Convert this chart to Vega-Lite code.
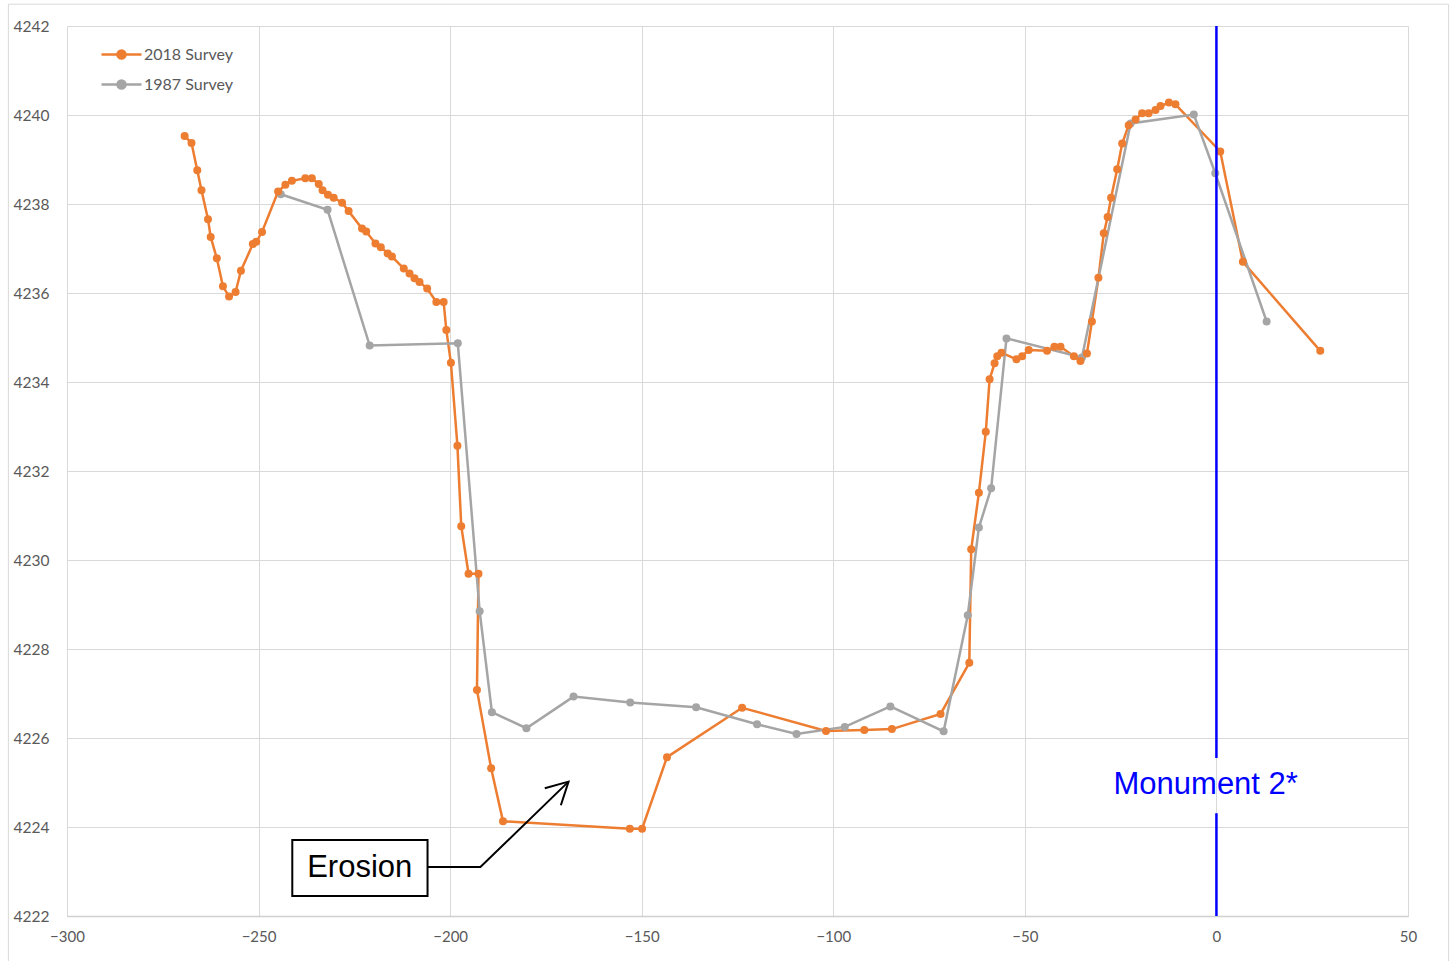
{
  "$schema": "https://vega.github.io/schema/vega-lite/v6.json",
  "width": 1341,
  "height": 890,
  "autosize": {"type": "none"},
  "padding": {"left": 67, "top": 26, "right": 47, "bottom": 45},
  "background": "white",
  "config": {
    "view": {"stroke": null},
    "font": "Lato",
    "axis": {
      "grid": true,
      "gridColor": "#d9d9d9",
      "gridWidth": 1,
      "ticks": false,
      "domain": false,
      "labelFont": "Lato",
      "labelFontSize": 15,
      "labelColor": "#595959",
      "labelFlush": false,
      "title": null
    }
  },
  "datasets": {
    "profile": [
      {"series": "2018 Survey", "i": 1, "x": -269.3, "y": 4239.53},
      {"series": "2018 Survey", "i": 2, "x": -267.5, "y": 4239.37},
      {"series": "2018 Survey", "i": 3, "x": -266.0, "y": 4238.76},
      {"series": "2018 Survey", "i": 4, "x": -264.9, "y": 4238.31},
      {"series": "2018 Survey", "i": 5, "x": -263.2, "y": 4237.66},
      {"series": "2018 Survey", "i": 6, "x": -262.5, "y": 4237.26},
      {"series": "2018 Survey", "i": 7, "x": -260.9, "y": 4236.78},
      {"series": "2018 Survey", "i": 8, "x": -259.3, "y": 4236.15},
      {"series": "2018 Survey", "i": 9, "x": -257.7, "y": 4235.92},
      {"series": "2018 Survey", "i": 10, "x": -256.0, "y": 4236.02},
      {"series": "2018 Survey", "i": 11, "x": -254.6, "y": 4236.50},
      {"series": "2018 Survey", "i": 12, "x": -251.5, "y": 4237.10},
      {"series": "2018 Survey", "i": 13, "x": -250.6, "y": 4237.15},
      {"series": "2018 Survey", "i": 14, "x": -249.1, "y": 4237.37},
      {"series": "2018 Survey", "i": 15, "x": -244.9, "y": 4238.28},
      {"series": "2018 Survey", "i": 16, "x": -243.0, "y": 4238.43},
      {"series": "2018 Survey", "i": 17, "x": -241.3, "y": 4238.52},
      {"series": "2018 Survey", "i": 18, "x": -237.8, "y": 4238.58},
      {"series": "2018 Survey", "i": 19, "x": -236.1, "y": 4238.58},
      {"series": "2018 Survey", "i": 20, "x": -234.3, "y": 4238.45},
      {"series": "2018 Survey", "i": 21, "x": -233.3, "y": 4238.31},
      {"series": "2018 Survey", "i": 22, "x": -231.9, "y": 4238.21},
      {"series": "2018 Survey", "i": 23, "x": -230.4, "y": 4238.14},
      {"series": "2018 Survey", "i": 24, "x": -228.2, "y": 4238.03},
      {"series": "2018 Survey", "i": 25, "x": -226.5, "y": 4237.84},
      {"series": "2018 Survey", "i": 26, "x": -223.0, "y": 4237.45},
      {"series": "2018 Survey", "i": 27, "x": -221.9, "y": 4237.38},
      {"series": "2018 Survey", "i": 28, "x": -219.5, "y": 4237.11},
      {"series": "2018 Survey", "i": 29, "x": -218.1, "y": 4237.03},
      {"series": "2018 Survey", "i": 30, "x": -216.3, "y": 4236.89},
      {"series": "2018 Survey", "i": 31, "x": -215.2, "y": 4236.82},
      {"series": "2018 Survey", "i": 32, "x": -212.1, "y": 4236.55},
      {"series": "2018 Survey", "i": 33, "x": -210.6, "y": 4236.44},
      {"series": "2018 Survey", "i": 34, "x": -209.3, "y": 4236.33},
      {"series": "2018 Survey", "i": 35, "x": -208.0, "y": 4236.25},
      {"series": "2018 Survey", "i": 36, "x": -206.0, "y": 4236.10},
      {"series": "2018 Survey", "i": 37, "x": -203.6, "y": 4235.80},
      {"series": "2018 Survey", "i": 38, "x": -201.7, "y": 4235.80},
      {"series": "2018 Survey", "i": 39, "x": -201.0, "y": 4235.17},
      {"series": "2018 Survey", "i": 40, "x": -199.8, "y": 4234.43},
      {"series": "2018 Survey", "i": 41, "x": -198.1, "y": 4232.57},
      {"series": "2018 Survey", "i": 42, "x": -197.1, "y": 4230.76},
      {"series": "2018 Survey", "i": 43, "x": -195.2, "y": 4229.69},
      {"series": "2018 Survey", "i": 44, "x": -192.6, "y": 4229.69},
      {"series": "2018 Survey", "i": 45, "x": -193.0, "y": 4227.08},
      {"series": "2018 Survey", "i": 46, "x": -189.3, "y": 4225.32},
      {"series": "2018 Survey", "i": 47, "x": -186.2, "y": 4224.13},
      {"series": "2018 Survey", "i": 48, "x": -153.1, "y": 4223.96},
      {"series": "2018 Survey", "i": 49, "x": -149.9, "y": 4223.96},
      {"series": "2018 Survey", "i": 50, "x": -143.4, "y": 4225.57},
      {"series": "2018 Survey", "i": 51, "x": -123.8, "y": 4226.68},
      {"series": "2018 Survey", "i": 52, "x": -101.9, "y": 4226.16},
      {"series": "2018 Survey", "i": 53, "x": -91.9, "y": 4226.18},
      {"series": "2018 Survey", "i": 54, "x": -84.7, "y": 4226.20},
      {"series": "2018 Survey", "i": 55, "x": -72.0, "y": 4226.54},
      {"series": "2018 Survey", "i": 56, "x": -64.5, "y": 4227.69},
      {"series": "2018 Survey", "i": 57, "x": -64.0, "y": 4230.24},
      {"series": "2018 Survey", "i": 58, "x": -62.0, "y": 4231.51},
      {"series": "2018 Survey", "i": 59, "x": -60.2, "y": 4232.88},
      {"series": "2018 Survey", "i": 60, "x": -59.2, "y": 4234.06},
      {"series": "2018 Survey", "i": 61, "x": -57.9, "y": 4234.42},
      {"series": "2018 Survey", "i": 62, "x": -57.2, "y": 4234.58},
      {"series": "2018 Survey", "i": 63, "x": -56.1, "y": 4234.66},
      {"series": "2018 Survey", "i": 64, "x": -52.2, "y": 4234.51},
      {"series": "2018 Survey", "i": 65, "x": -50.7, "y": 4234.58},
      {"series": "2018 Survey", "i": 66, "x": -49.0, "y": 4234.72},
      {"series": "2018 Survey", "i": 67, "x": -44.2, "y": 4234.70},
      {"series": "2018 Survey", "i": 68, "x": -42.3, "y": 4234.79},
      {"series": "2018 Survey", "i": 69, "x": -40.7, "y": 4234.79},
      {"series": "2018 Survey", "i": 70, "x": -37.2, "y": 4234.58},
      {"series": "2018 Survey", "i": 71, "x": -35.5, "y": 4234.47},
      {"series": "2018 Survey", "i": 72, "x": -33.8, "y": 4234.64},
      {"series": "2018 Survey", "i": 73, "x": -32.5, "y": 4235.36},
      {"series": "2018 Survey", "i": 74, "x": -30.8, "y": 4236.34},
      {"series": "2018 Survey", "i": 75, "x": -29.4, "y": 4237.34},
      {"series": "2018 Survey", "i": 76, "x": -28.4, "y": 4237.71},
      {"series": "2018 Survey", "i": 77, "x": -27.5, "y": 4238.14},
      {"series": "2018 Survey", "i": 78, "x": -25.9, "y": 4238.78},
      {"series": "2018 Survey", "i": 79, "x": -24.6, "y": 4239.36},
      {"series": "2018 Survey", "i": 80, "x": -22.9, "y": 4239.77},
      {"series": "2018 Survey", "i": 81, "x": -21.1, "y": 4239.90},
      {"series": "2018 Survey", "i": 82, "x": -19.4, "y": 4240.04},
      {"series": "2018 Survey", "i": 83, "x": -17.7, "y": 4240.04},
      {"series": "2018 Survey", "i": 84, "x": -15.9, "y": 4240.11},
      {"series": "2018 Survey", "i": 85, "x": -14.6, "y": 4240.20},
      {"series": "2018 Survey", "i": 86, "x": -12.4, "y": 4240.28},
      {"series": "2018 Survey", "i": 87, "x": -10.7, "y": 4240.24},
      {"series": "2018 Survey", "i": 88, "x": 1.0, "y": 4239.18},
      {"series": "2018 Survey", "i": 89, "x": 6.9, "y": 4236.70},
      {"series": "2018 Survey", "i": 90, "x": 27.1, "y": 4234.70},
      {"series": "1987 Survey", "i": 1, "x": -244.2, "y": 4238.22},
      {"series": "1987 Survey", "i": 2, "x": -232.0, "y": 4237.87},
      {"series": "1987 Survey", "i": 3, "x": -221.0, "y": 4234.82},
      {"series": "1987 Survey", "i": 4, "x": -198.0, "y": 4234.87},
      {"series": "1987 Survey", "i": 5, "x": -192.3, "y": 4228.85},
      {"series": "1987 Survey", "i": 6, "x": -189.1, "y": 4226.58},
      {"series": "1987 Survey", "i": 7, "x": -180.1, "y": 4226.22},
      {"series": "1987 Survey", "i": 8, "x": -167.8, "y": 4226.93},
      {"series": "1987 Survey", "i": 9, "x": -153.0, "y": 4226.80},
      {"series": "1987 Survey", "i": 10, "x": -135.8, "y": 4226.69},
      {"series": "1987 Survey", "i": 11, "x": -119.9, "y": 4226.31},
      {"series": "1987 Survey", "i": 12, "x": -109.6, "y": 4226.09},
      {"series": "1987 Survey", "i": 13, "x": -97.0, "y": 4226.25},
      {"series": "1987 Survey", "i": 14, "x": -85.1, "y": 4226.71},
      {"series": "1987 Survey", "i": 15, "x": -71.2, "y": 4226.15},
      {"series": "1987 Survey", "i": 16, "x": -64.9, "y": 4228.76},
      {"series": "1987 Survey", "i": 17, "x": -62.0, "y": 4230.73},
      {"series": "1987 Survey", "i": 18, "x": -58.8, "y": 4231.61},
      {"series": "1987 Survey", "i": 19, "x": -54.8, "y": 4234.98},
      {"series": "1987 Survey", "i": 20, "x": -35.1, "y": 4234.55},
      {"series": "1987 Survey", "i": 21, "x": -22.4, "y": 4239.81},
      {"series": "1987 Survey", "i": 22, "x": -5.9, "y": 4240.01},
      {"series": "1987 Survey", "i": 23, "x": -0.3, "y": 4238.69},
      {"series": "1987 Survey", "i": 24, "x": 13.1, "y": 4235.36}
    ],
    "monument": [
      {"x": 0, "y": 4242, "y2": 4225.55},
      {"x": 0, "y": 4224.31, "y2": 4222}
    ],
    "arrow": [
      {"g": "connector", "i": 1, "x": -205.9, "y": 4223.10},
      {"g": "connector", "i": 2, "x": -192.1, "y": 4223.10},
      {"g": "connector", "i": 3, "x": -169.1, "y": 4225.02},
      {"g": "head", "i": 1, "x": -175.3, "y": 4224.87},
      {"g": "head", "i": 2, "x": -169.1, "y": 4225.02},
      {"g": "head", "i": 3, "x": -171.1, "y": 4224.49}
    ],
    "labels": [
      {"label": "Erosion", "x": -241.2, "x2": -205.9, "y": 4223.71, "y2": 4222.45, "tx": -223.6, "ty": 4223.08},
      {"label": "Monument 2*", "tx": -2.8, "ty": 4224.95}
    ]
  },
  "layer": [
    {
      "data": {"values": [{}]},
      "mark": {"type": "rect", "clip": false, "fill": null, "stroke": "#d9d9d9", "strokeWidth": 1},
      "encoding": {
        "x": {"datum": -315.3, "type": "quantitative", "scale": {"domain": [-300, 50], "nice": false, "zero": false}},
        "x2": {"datum": 60.6},
        "y": {"datum": 4242.49, "type": "quantitative", "scale": {"domain": [4222, 4242], "nice": false, "zero": false}},
        "y2": {"datum": 4220.8}
      }
    },
    {
      "data": {"name": "profile"},
      "mark": {"type": "line", "strokeWidth": 2.5, "point": {"filled": true, "size": 64}},
      "encoding": {
        "x": {
          "field": "x", "type": "quantitative",
          "scale": {"domain": [-300, 50], "nice": false, "zero": false},
          "axis": {"values": [-300, -250, -200, -150, -100, -50, 0, 50], "labelPadding": 13, "domain": true, "domainColor": "#d0d0d0", "domainWidth": 1.5}
        },
        "y": {
          "field": "y", "type": "quantitative",
          "scale": {"domain": [4222, 4242], "nice": false, "zero": false},
          "axis": {"values": [4222, 4224, 4226, 4228, 4230, 4232, 4234, 4236, 4238, 4240, 4242], "labelPadding": 18, "labelAlign": "right", "labelFontSize": 15.5, "format": "d"}
        },
        "order": {"field": "i", "type": "quantitative"},
        "color": {
          "field": "series", "type": "nominal",
          "scale": {"domain": ["2018 Survey", "1987 Survey"], "range": ["#ED7D31", "#A5A5A5"]},
          "legend": {
            "title": null,
            "orient": "none",
            "legendX": 43,
            "legendY": 17,
            "padding": 0,
            "symbolType": "M-2,0L2,0M-0.4,0A0.4,0.4,0,1,1,0.4,0A0.4,0.4,0,1,1,-0.4,0Z",
            "symbolSize": 400,
            "symbolStrokeWidth": 2.5,
            "labelOffset": 11,
            "rowPadding": 9,
            "labelFont": "Lato",
            "labelFontSize": 16,
            "labelColor": "#595959",
            "encode": {
              "symbols": {
                "update": {
                  "fill": {"scale": "color", "field": "value"},
                  "stroke": {"scale": "color", "field": "value"},
                  "opacity": {"value": 1}
                }
              }
            }
          }
        }
      }
    },
    {
      "data": {"name": "monument"},
      "mark": {"type": "rule", "color": "#0000FF", "strokeWidth": 2.5},
      "encoding": {
        "x": {"field": "x", "type": "quantitative"},
        "y": {"field": "y", "type": "quantitative"},
        "y2": {"field": "y2"}
      }
    },
    {
      "data": {"name": "labels"},
      "transform": [{"filter": "datum.label === 'Erosion'"}],
      "mark": {"type": "rect", "fill": "white", "stroke": "black", "strokeWidth": 2},
      "encoding": {
        "x": {"field": "x", "type": "quantitative"},
        "x2": {"field": "x2"},
        "y": {"field": "y", "type": "quantitative"},
        "y2": {"field": "y2"}
      }
    },
    {
      "data": {"name": "arrow"},
      "mark": {"type": "line", "color": "black", "strokeWidth": 2},
      "encoding": {
        "x": {"field": "x", "type": "quantitative"},
        "y": {"field": "y", "type": "quantitative"},
        "detail": {"field": "g"},
        "order": {"field": "i", "type": "quantitative"}
      }
    },
    {
      "data": {"name": "labels"},
      "transform": [{"filter": "datum.label === 'Erosion'"}],
      "mark": {"type": "text", "font": "Liberation Sans", "fontSize": 31, "color": "black", "align": "center", "baseline": "middle"},
      "encoding": {
        "x": {"field": "tx", "type": "quantitative"},
        "y": {"field": "ty", "type": "quantitative"},
        "text": {"field": "label"}
      }
    },
    {
      "data": {"name": "labels"},
      "transform": [{"filter": "datum.label === 'Monument 2*'"}],
      "mark": {"type": "text", "font": "Liberation Sans", "fontSize": 31, "color": "#0000FF", "align": "center", "baseline": "middle"},
      "encoding": {
        "x": {"field": "tx", "type": "quantitative"},
        "y": {"field": "ty", "type": "quantitative"},
        "text": {"field": "label"}
      }
    }
  ]
}
